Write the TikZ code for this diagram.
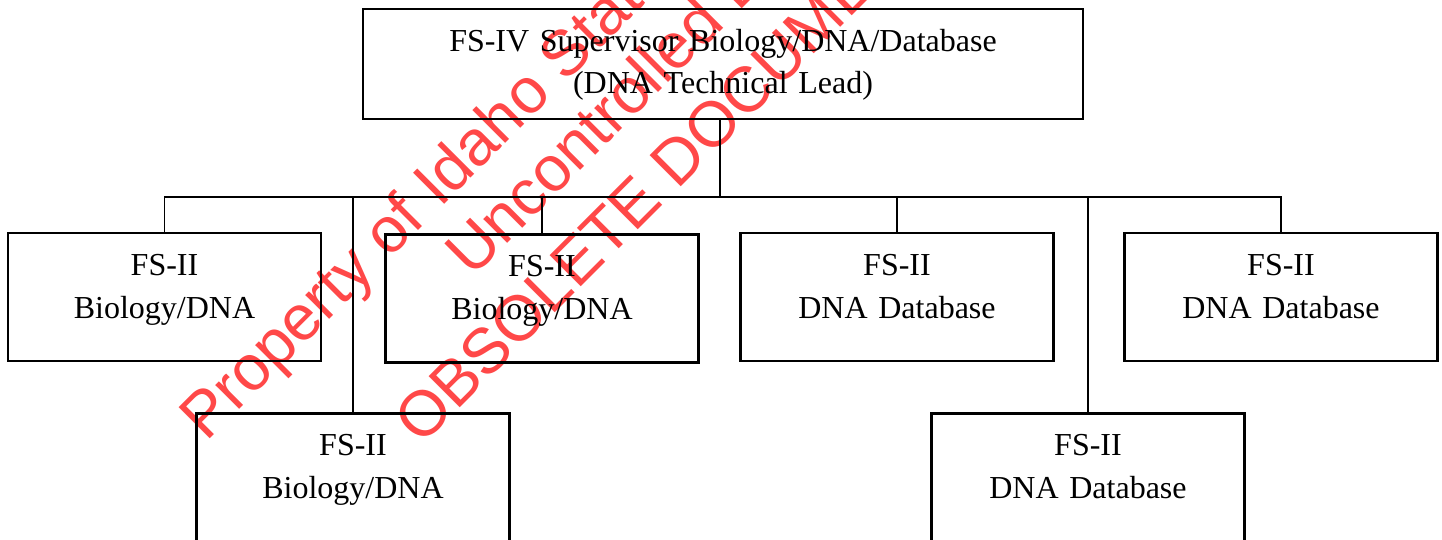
\documentclass[tikz,border=0pt]{standalone}
\usepackage{fontspec}
\setmainfont{Liberation Serif}
\newfontfamily\wmfont{Liberation Sans}
\definecolor{wmred}{RGB}{255,72,72}
\tikzset{role/.style={draw,line width=2.2pt,inner sep=0pt,align=center,text width=313pt,
 text height=42pt,text depth=86pt,font=\fontsize{32}{43}\selectfont},
 lead/.style={role,text width=720pt,text height=43pt,text depth=67pt,font=\fontsize{32}{42}\selectfont},
 conn/.style={draw,line width=1.8pt},
 wm/.style={rotate=45,anchor=base west,inner sep=0pt,text=wmred,font=\wmfont\fontsize{64}{64}\selectfont}}

\begin{document}
\begin{tikzpicture}[x=1pt,y=-1pt]
\useasboundingbox (0,0) rectangle (1442,540);
\clip (0,0) rectangle (1442,540);
\node[wm] (wm1) at (206,443) {Property of Idaho State Police};
\node[wm] (wm2) at (472,279) {Uncontrolled Document};
\node[wm] (wm3) at (421,447) {OBSOLETE DOCUMENT};
\node[lead] (sup) at (723,64) {FS-IV Supervisor Biology/DNA/Database\\(DNA Technical Lead)};
\node[role] (bio1) at (164.5,297) {FS-II\\Biology/DNA};
\node[role] (bio2) at (353,477.5) {FS-II\\Biology/DNA};
\node[role] (bio3) at (542,298.5) {FS-II\\Biology/DNA};
\node[role] (db1) at (897,297) {FS-II\\DNA Database};
\node[role] (db2) at (1088,477.5) {FS-II\\DNA Database};
\node[role] (db3) at (1281,297) {FS-II\\DNA Database};
\coordinate (stem) at ([xshift=-3pt]sup.south);
\coordinate (bus) at (0,197);
\foreach \n in {bio1,bio2,bio3,db1,db2,db3}
  \draw[conn] (stem) -- (stem |- bus) -| (\n.north);
\end{tikzpicture}
\end{document}
